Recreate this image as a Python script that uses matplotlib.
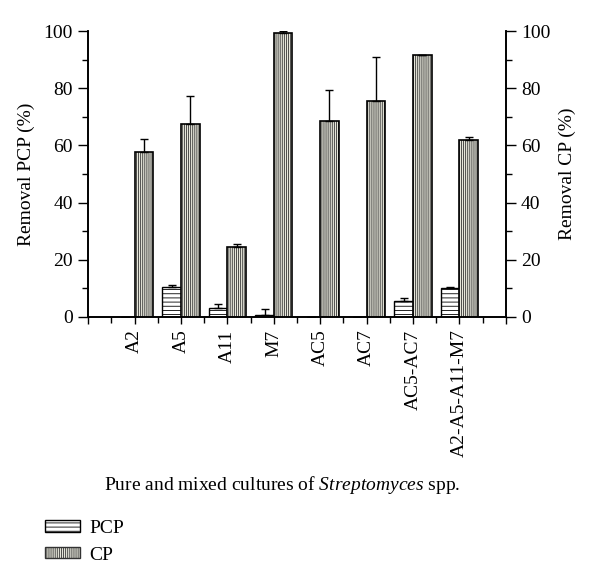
import matplotlib
matplotlib.use("Agg")
import matplotlib.pyplot as plt
import numpy as np
from matplotlib.patches import Patch

plt.rcParams['font.family'] = ['Liberation Serif', 'DejaVu Serif']
plt.rcParams['mathtext.fontset'] = 'custom'
plt.rcParams['mathtext.rm'] = 'Liberation Serif'
plt.rcParams['mathtext.it'] = 'Liberation Serif:italic'
plt.rcParams['hatch.linewidth'] = 0.6

categories = ["A2", "A5", "A11", "M7", "AC5", "AC7", "AC5-AC7", "A2-A5-A11-M7"]
pcp = [0.0, 10.4, 3.0, 0.7, 0.0, 0.0, 5.6, 10.0]
pcp_err = [0.0, 0.8, 1.5, 2.0, 0.0, 0.0, 0.9, 0.4]
cp = [57.7, 67.6, 24.4, 99.2, 68.6, 75.4, 91.6, 61.8]
cp_err = [4.6, 9.7, 1.2, 0.9, 10.8, 15.5, 0.0, 1.1]
yticks = [0, 20, 40, 60, 80, 100]

fig = plt.figure(figsize=(6.0, 5.88), dpi=100)
ax = fig.add_axes([0.147, 0.461, 0.696, 0.486])
ax2 = ax.twinx()

x = np.arange(1, len(categories) + 1)
w = 0.4

ax.bar(x - w / 2, pcp, width=w, facecolor='white', edgecolor='black',
       hatch='----', linewidth=1.0, zorder=2)
ax.errorbar(x - w / 2, pcp, yerr=[np.zeros(len(pcp)), pcp_err], fmt='none',
            ecolor='black', elinewidth=1.0, capsize=3, capthick=1.0, zorder=3)

ax2.bar(x + w / 2, cp, width=w, facecolor='#e6e6da', edgecolor='#333333',
        hatch='||||||||', linewidth=0, zorder=2)
ax2.bar(x + w / 2, cp, width=w, facecolor='none', edgecolor='black',
        linewidth=1.2, zorder=3)
ax2.errorbar(x + w / 2, cp, yerr=[np.zeros(len(cp)), cp_err], fmt='none',
             ecolor='black', elinewidth=1.0, capsize=3, capthick=1.0, zorder=4)

for a in (ax, ax2):
    a.set_ylim(0, 100)
    a.set_xlim(0, 9)
    a.spines['top'].set_visible(False)
    for s in a.spines.values():
        s.set_linewidth(1.2)

ax.set_yticks(yticks)
ax.set_yticks(np.arange(10, 100, 20), minor=True)
ax2.set_yticks(yticks)
ax2.set_yticks(np.arange(10, 100, 20), minor=True)
ax.tick_params(axis='y', which='major', direction='out', length=7, width=1.0, labelsize=14, pad=4)
ax.tick_params(axis='y', which='minor', direction='out', length=4, width=1.0)
ax2.tick_params(axis='y', which='major', direction='out', length=7, width=1.0, labelsize=14, pad=4)
ax2.tick_params(axis='y', which='minor', direction='out', length=4, width=1.0)

ax.set_xticks(np.arange(0, 10))
ax.set_xticklabels([''] + categories + [''], rotation=90, fontsize=14)
ax.set_xticks(np.arange(0.5, 9, 1.0), minor=True)
ax.tick_params(axis='x', which='major', direction='out', length=5, width=1.0, pad=4)
ax.tick_params(axis='x', which='minor', direction='out', length=4, width=1.0)

ax.set_ylabel('Removal PCP (%)', fontsize=14, labelpad=6)
ax2.set_ylabel('Removal CP (%)', fontsize=14, labelpad=6)

fig.text(0.47, 1 - 485 / 588, r'Pure and mixed cultures of $\it{Streptomyces}$ spp.',
         ha='center', va='center', fontsize=14)

handles = [Patch(facecolor='white', edgecolor='black', hatch='----', linewidth=1.0, label='PCP'),
           Patch(facecolor='#e6e6da', edgecolor='#333333', hatch='||||||||', linewidth=1.0, label='CP')]
fig.legend(handles=handles, loc='upper left', bbox_to_anchor=(0.062, 1 - 512 / 588),
           frameon=False, fontsize=14, handlelength=1.8, handleheight=0.55,
           handletextpad=0.5, labelspacing=0.5, borderaxespad=0)

fig.savefig('out.png', dpi=100)
